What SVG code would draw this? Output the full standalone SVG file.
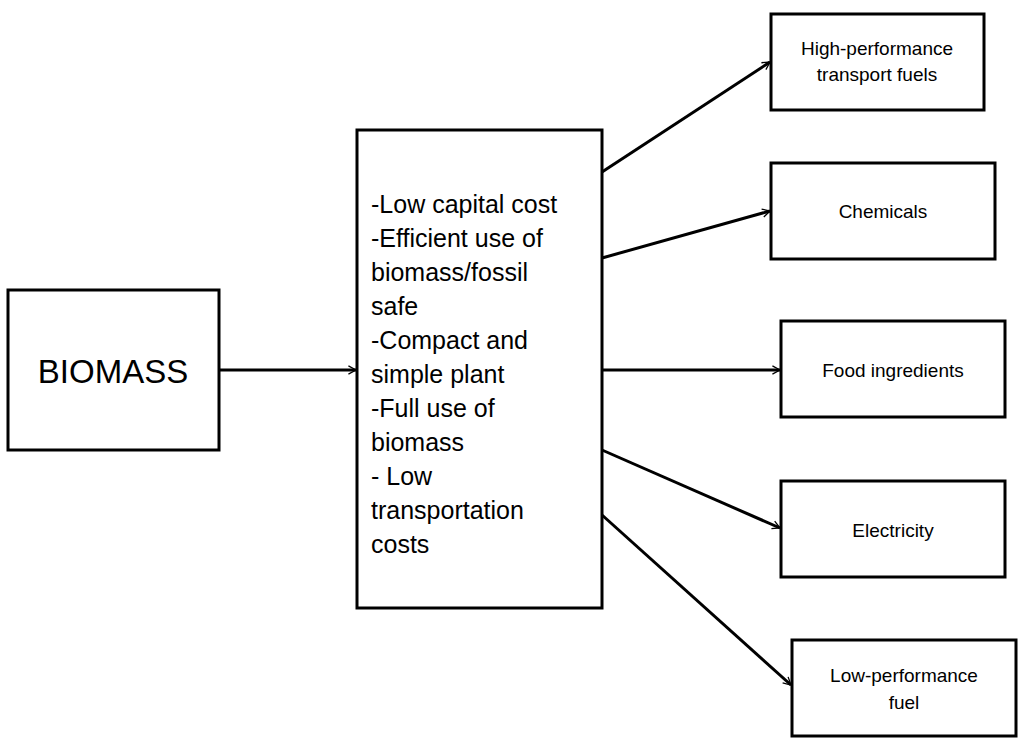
<svg xmlns="http://www.w3.org/2000/svg" width="1024" height="749" viewBox="0 0 1024 749">
<style>
.b{fill:#fff;stroke:#000;stroke-width:3}
.t{font-family:"Liberation Sans",Arial,sans-serif;fill:#000;font-size:19px;text-anchor:middle}
.c{stroke:#000;stroke-width:3;fill:none;marker-end:url(#a)}
</style>
<defs><marker id="a" viewBox="0 0 12 12" refX="11" refY="6" markerWidth="7" markerHeight="7" orient="auto" markerUnits="userSpaceOnUse" overflow="visible"><path d="M-2,-1 L11,6 L-2,13" fill="none" stroke="#000" stroke-width="2.2"/></marker></defs>
<rect width="1024" height="749" fill="#fff"/>
<g id="connectors">
<line class="c" x1="219" y1="370" x2="356" y2="370"/>
<line class="c" x1="602" y1="172" x2="770" y2="62"/>
<line class="c" x1="602" y1="258" x2="770" y2="211"/>
<line class="c" x1="602" y1="370" x2="780" y2="370"/>
<line class="c" x1="602" y1="450" x2="780" y2="528"/>
<line class="c" x1="602" y1="515" x2="791" y2="685"/>
</g>
<g id="biomass"><rect class="b" x="8" y="290" width="211" height="160"/><text class="t" x="113" y="383" style="font-size:33px">BIOMASS</text></g>
<g id="center"><rect class="b" x="357" y="130" width="245" height="478"/>
<text style="font-family:'Liberation Sans',Arial,sans-serif;font-size:25px" x="371">
<tspan x="371" y="213">-Low capital cost</tspan><tspan x="371" y="247">-Efficient use of</tspan><tspan x="371" y="281">biomass/fossil</tspan><tspan x="371" y="315">safe</tspan><tspan x="371" y="349">-Compact and</tspan><tspan x="371" y="383">simple plant</tspan><tspan x="371" y="417">-Full use of</tspan><tspan x="371" y="451">biomass</tspan><tspan x="371" y="485">- Low</tspan><tspan x="371" y="519">transportation</tspan><tspan x="371" y="553">costs</tspan></text></g>
<g id="hp"><rect class="b" x="771" y="14" width="213" height="96"/><text class="t" x="877" y="55">High-performance</text><text class="t" x="877" y="81">transport fuels</text></g>
<g id="chem"><rect class="b" x="771" y="163" width="224" height="96"/><text class="t" x="883" y="218">Chemicals</text></g>
<g id="food"><rect class="b" x="781" y="321" width="224" height="96"/><text class="t" x="893" y="377">Food ingredients</text></g>
<g id="elec"><rect class="b" x="781" y="481" width="224" height="96"/><text class="t" x="893" y="537">Electricity</text></g>
<g id="lp"><rect class="b" x="792" y="640" width="224" height="96"/><text class="t" x="904" y="682">Low-performance</text><text class="t" x="904" y="709">fuel</text></g>
</svg>
